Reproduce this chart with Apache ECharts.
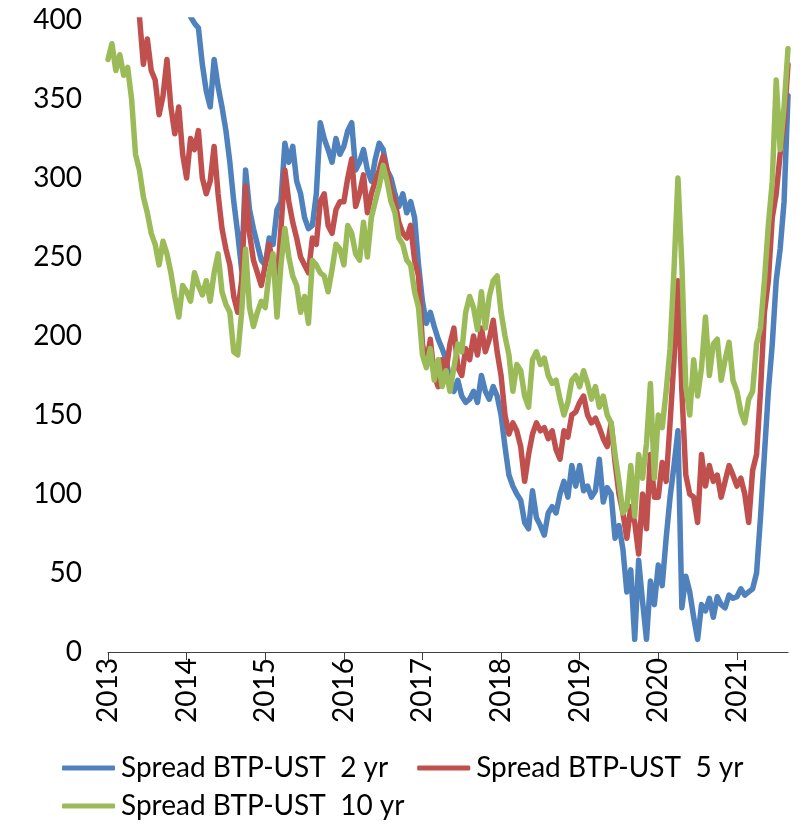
<!DOCTYPE html>
<html>
<head>
<meta charset="utf-8">
<script src="https://cdn.jsdelivr.net/npm/echarts@6/dist/echarts.min.js"></script>
<style>
  html, body { margin: 0; padding: 0; background: #fff; }
  #chart { width: 803px; height: 828px; }
</style>
</head>
<body>
<div id="chart"></div>
<script>
// Spreads of Italian BTP over US Treasuries, basis points.
// Samples every 0.05 year starting at 2013.00.
const START_YEAR = 2013;
const END_YEAR = 2021.65;
const STEP = 0.05;
const yearTicks = [2013, 2014, 2015, 2016, 2017, 2018, 2019, 2020, 2021];
const yTicks = { min: 0, max: 400, interval: 50 };

const seriesNames = ['Spread BTP-UST  2 yr', 'Spread BTP-UST  5 yr', 'Spread BTP-UST  10 yr'];
const seriesColors = ['#4F81BD', '#C0504D', '#9BBB59'];

const spread2y = [
  480, 475, 470, 468, 462, 458, 455, 450, 448, 445, 440, 438, 435, 432, 430, 428, 425, 422, 420, 418, // 2013
  412, 402, 398, 395, 372, 355, 345, 375, 358, 345, 330, 310, 285, 265, 242, 305, 280, 268, 258, 248, // 2014
  245, 262, 258, 280, 285, 322, 310, 320, 298, 290, 275, 268, 270, 290, 335, 325, 318, 310, 325, 315, // 2015
  320, 330, 335, 305, 310, 318, 305, 298, 312, 322, 318, 305, 300, 290, 282, 290, 278, 285, 275, 245, // 2016
  222, 208, 215, 206, 198, 192, 185, 172, 165, 172, 162, 158, 160, 165, 158, 175, 165, 160, 168, 162, // 2017
  150, 130, 112, 105, 100, 96, 82, 78, 102, 85, 80, 74, 88, 92, 88, 100, 108, 98, 118, 105,           // 2018
  118, 102, 105, 98, 102, 122, 95, 104, 100, 72, 80, 65, 38, 52, 8, 58, 32, 8, 45, 30,                 // 2019
  55, 42, 72, 98, 118, 140, 28, 48, 38, 22, 8, 30, 26, 34, 22, 35, 30, 28, 36, 34,                     // 2020
  35, 40, 36, 38, 40, 50, 85, 125, 165, 195, 235, 255, 285, 352                                        // 2021
];

const spread5y = [
  455, 450, 445, 440, 432, 425, 418, 410, 402, 372, 388, 368, 362, 340, 352, 375, 345, 328, 345, 315, // 2013
  300, 325, 318, 330, 300, 290, 298, 320, 290, 268, 255, 245, 225, 215, 235, 295, 265, 248, 240, 232, // 2014
  245, 258, 245, 232, 268, 305, 285, 272, 262, 250, 245, 240, 262, 258, 285, 290, 270, 265, 280, 285, // 2015
  285, 300, 312, 282, 290, 302, 278, 290, 298, 305, 314, 305, 292, 285, 272, 265, 262, 270, 248, 238, // 2016
  195, 182, 198, 175, 168, 185, 178, 195, 205, 180, 175, 192, 185, 200, 188, 205, 190, 198, 210, 190, // 2017
  175, 150, 138, 145, 140, 130, 108, 125, 138, 145, 140, 142, 135, 140, 128, 122, 140, 136, 150, 152, // 2018
  158, 162, 150, 145, 148, 142, 135, 130, 145, 120, 100, 88, 72, 92, 82, 62, 100, 78, 125, 98,        // 2019
  98, 120, 108, 145, 185, 235, 165, 112, 100, 98, 82, 125, 105, 118, 108, 112, 98, 108, 118, 112,     // 2020
  105, 110, 100, 82, 115, 125, 165, 215, 235, 275, 290, 315, 335, 372                                  // 2021
];

const spread10y = [
  375, 385, 368, 378, 365, 370, 350, 315, 305, 288, 278, 265, 258, 245, 260, 252, 240, 225, 212, 232, // 2013
  228, 222, 240, 232, 226, 235, 222, 240, 252, 228, 220, 215, 190, 188, 215, 255, 218, 206, 215, 222, // 2014
  218, 240, 252, 212, 245, 268, 250, 238, 232, 215, 225, 208, 248, 245, 240, 238, 228, 242, 258, 255, // 2015
  245, 270, 265, 252, 248, 272, 250, 275, 285, 295, 308, 298, 285, 278, 262, 258, 248, 245, 228, 218, // 2016
  188, 180, 192, 172, 185, 168, 178, 165, 180, 195, 190, 215, 225, 218, 204, 228, 205, 225, 235, 238, // 2017
  215, 200, 188, 165, 182, 178, 162, 155, 185, 190, 182, 186, 175, 170, 172, 160, 150, 158, 172, 175, // 2018
  168, 178, 170, 160, 168, 155, 162, 150, 145, 125, 108, 88, 92, 118, 86, 125, 110, 132, 170, 110,    // 2019
  150, 142, 165, 192, 242, 300, 245, 168, 150, 185, 162, 180, 212, 175, 195, 198, 172, 185, 196, 172, // 2020
  165, 152, 145, 160, 165, 195, 205, 235, 270, 298, 362, 318, 345, 382                                 // 2021
];

// Pair each value with its sample time (decimal year).
function toPoints(values) {
  return values.map((v, i) => [START_YEAR + i * STEP, v]);
}

const fontFamily = 'Lato, "DejaVu Sans", sans-serif';
const fontSize = 28;
const textColor = '#000';

const chart = echarts.init(document.getElementById('chart'), null, { renderer: 'canvas' });

const legendBase = {
  orient: 'horizontal',
  left: 62,
  icon: 'roundRect',
  itemWidth: 53,
  itemHeight: 5,
  itemGap: 29,
  textStyle: { fontFamily, fontSize, color: textColor, padding: [0, 0, 0, 1] },
  selectedMode: false,
  padding: 0
};

chart.setOption({
  animation: false,
  backgroundColor: '#fff',
  color: seriesColors,
  grid: { left: 108, right: 15, top: 20, bottom: 176, containLabel: false },
  legend: [
    Object.assign({}, legendBase, { top: 754, data: [seriesNames[0], seriesNames[1]] }),
    Object.assign({}, legendBase, { top: 792, data: [seriesNames[2]] })
  ],
  xAxis: {
    type: 'value',
    min: START_YEAR,
    max: END_YEAR,
    splitLine: { show: false },
    axisLine: { show: true, lineStyle: { color: '#404040', width: 1 } },
    axisTick: { show: true, inside: false, length: 8, customValues: yearTicks,
      lineStyle: { color: '#404040', width: 1 } },
    axisLabel: {
      customValues: yearTicks,
      rotate: 90,
      margin: 6,
      fontFamily, fontSize, color: textColor,
      formatter: v => String(Math.round(v))
    }
  },
  yAxis: {
    type: 'value',
    min: yTicks.min,
    max: yTicks.max,
    interval: yTicks.interval,
    splitLine: { show: false },
    axisLine: { show: false },
    axisTick: { show: false },
    axisLabel: { margin: 26, fontFamily, fontSize, color: textColor }
  },
  series: [spread2y, spread5y, spread10y].map((values, i) => ({
    name: seriesNames[i],
    type: 'line',
    data: toPoints(values),
    showSymbol: false,
    clip: true,
    lineStyle: { width: 5.5, color: seriesColors[i], join: 'round', cap: 'round' },
    itemStyle: { color: seriesColors[i] },
    emphasis: { disabled: true }
  }))
});
</script>
</body>
</html>
